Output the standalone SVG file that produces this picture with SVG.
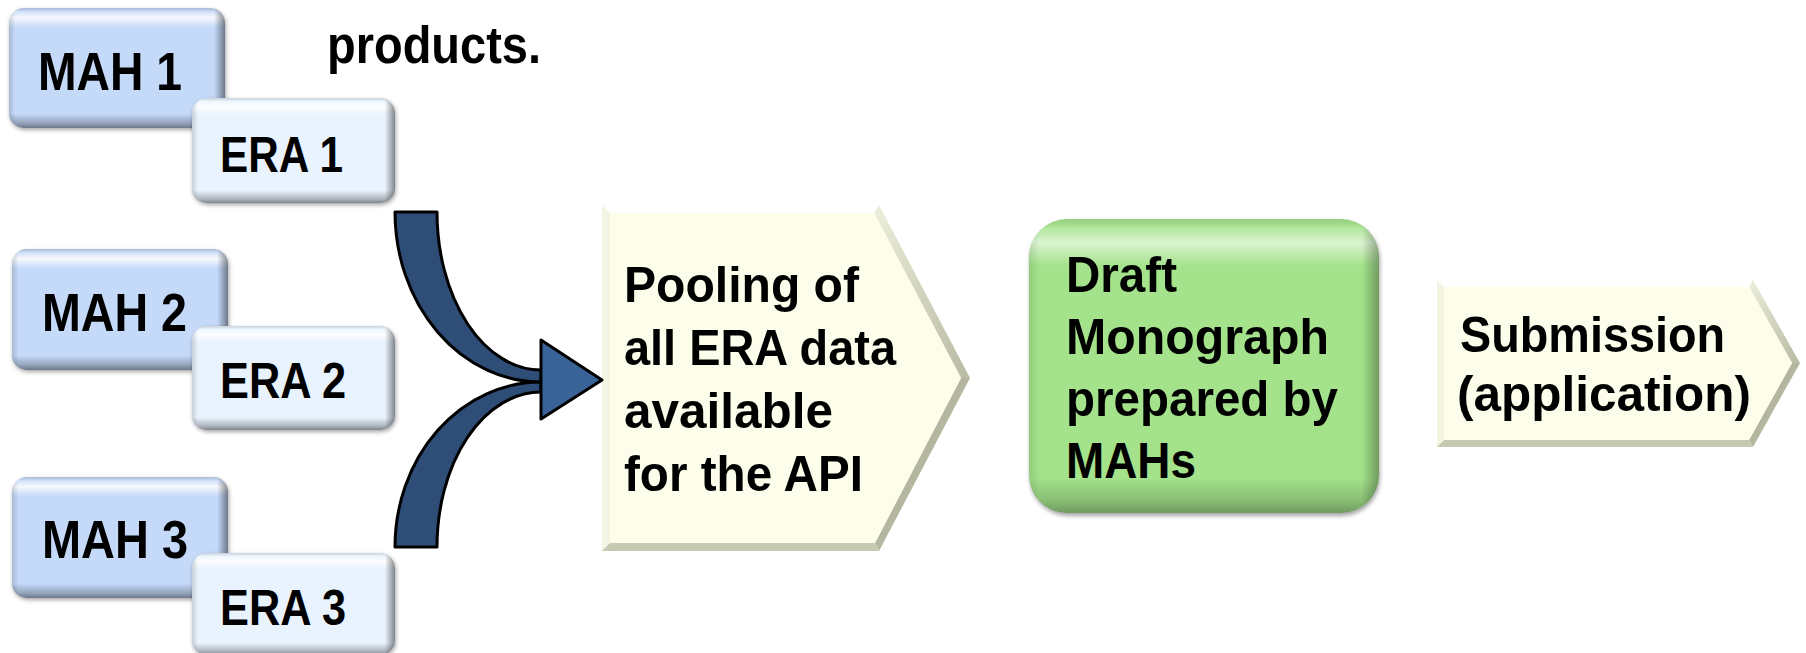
<svg xmlns="http://www.w3.org/2000/svg" width="1806" height="653" viewBox="0 0 1806 653">
<defs>
<style>
.t{font-family:"Liberation Sans",Arial,sans-serif;font-weight:bold;fill:#000;}
.mah{font-size:54px;}
.era{font-size:50px;}
.big{font-size:50px;}
.band{fill:#2E4E78;stroke:#000;stroke-width:3;stroke-linejoin:round;}
.head{fill:#3A6498;stroke:#000;stroke-width:3;stroke-linejoin:round;}
.sh{fill:#000;opacity:.35;filter:url(#blur)}
.ov{fill:url(#gv)}
.oh{fill:url(#gh)}
</style>
<filter id="blur" x="-10%" y="-10%" width="120%" height="120%"><feGaussianBlur stdDeviation="2"/></filter>
<linearGradient id="gv" x1="0" y1="0" x2="0" y2="1">
<stop offset="0" stop-color="#000" stop-opacity=".12"/>
<stop offset=".03" stop-color="#fff" stop-opacity=".2"/>
<stop offset=".08" stop-color="#fff" stop-opacity=".85"/>
<stop offset=".16" stop-color="#fff" stop-opacity="0"/>
<stop offset=".88" stop-color="#000" stop-opacity="0"/>
<stop offset=".96" stop-color="#000" stop-opacity=".25"/>
<stop offset="1" stop-color="#000" stop-opacity=".45"/>
</linearGradient>
<linearGradient id="gh" x1="0" y1="0" x2="1" y2="0">
<stop offset="0" stop-color="#000" stop-opacity=".15"/>
<stop offset=".03" stop-color="#000" stop-opacity="0"/>
<stop offset=".95" stop-color="#000" stop-opacity="0"/>
<stop offset="1" stop-color="#000" stop-opacity=".45"/>
</linearGradient>
<linearGradient id="gs1" x1="0" y1="0" x2="1" y2="1">
<stop offset="0" stop-color="#EDEEDB"/>
<stop offset="1" stop-color="#B9BAA3"/>
</linearGradient>
<linearGradient id="gs2" x1="0" y1="0" x2="1" y2="1">
<stop offset="0" stop-color="#A7A891"/>
<stop offset="1" stop-color="#C4C5AF"/>
</linearGradient>
</defs>

<text class="t" x="327" y="63" font-size="51" textLength="214" lengthAdjust="spacingAndGlyphs">products.</text>

<g id="mah1">
<rect class="sh" x="10" y="10" width="216" height="120" rx="15"/>
<rect x="9" y="8" width="216" height="120" rx="15" fill="#C5D9F9"/>
<rect class="ov" x="9" y="8" width="216" height="120" rx="15"/>
<rect class="oh" x="9" y="8" width="216" height="120" rx="15"/>
<text class="t mah" x="38" y="90" textLength="144" lengthAdjust="spacingAndGlyphs">MAH 1</text>
</g>
<g id="era1">
<rect class="sh" x="193" y="100" width="203" height="105" rx="15"/>
<rect x="192" y="98" width="203" height="105" rx="15" fill="#E9F3FE"/>
<rect class="ov" x="192" y="98" width="203" height="105" rx="15"/>
<rect class="oh" x="192" y="98" width="203" height="105" rx="15"/>
<text class="t era" x="220" y="172" textLength="123" lengthAdjust="spacingAndGlyphs">ERA 1</text>
</g>

<g id="mah2">
<rect class="sh" x="13" y="251" width="216" height="121" rx="15"/>
<rect x="12" y="249" width="216" height="121" rx="15" fill="#C5D9F9"/>
<rect class="ov" x="12" y="249" width="216" height="121" rx="15"/>
<rect class="oh" x="12" y="249" width="216" height="121" rx="15"/>
<text class="t mah" x="42" y="331" textLength="145" lengthAdjust="spacingAndGlyphs">MAH 2</text>
</g>
<g id="era2">
<rect class="sh" x="193" y="328" width="203" height="104" rx="15"/>
<rect x="192" y="326" width="203" height="104" rx="15" fill="#E9F3FE"/>
<rect class="ov" x="192" y="326" width="203" height="104" rx="15"/>
<rect class="oh" x="192" y="326" width="203" height="104" rx="15"/>
<text class="t era" x="220" y="398" textLength="126" lengthAdjust="spacingAndGlyphs">ERA 2</text>
</g>

<g id="mah3">
<rect class="sh" x="13" y="479" width="216" height="121" rx="15"/>
<rect x="12" y="477" width="216" height="121" rx="15" fill="#C5D9F9"/>
<rect class="ov" x="12" y="477" width="216" height="121" rx="15"/>
<rect class="oh" x="12" y="477" width="216" height="121" rx="15"/>
<text class="t mah" x="42" y="558" textLength="146" lengthAdjust="spacingAndGlyphs">MAH 3</text>
</g>
<g id="era3">
<rect class="sh" x="193" y="555" width="203" height="102" rx="15"/>
<rect x="192" y="553" width="203" height="102" rx="15" fill="#E9F3FE"/>
<rect class="ov" x="192" y="553" width="203" height="102" rx="15"/>
<rect class="oh" x="192" y="553" width="203" height="102" rx="15"/>
<text class="t era" x="220" y="625" textLength="126" lengthAdjust="spacingAndGlyphs">ERA 3</text>
</g>

<g id="pooling">
<polygon points="602,205 879,205 970,378 879,551 602,551" fill="#FCFDEB"/>
<polygon points="602,205 879,205 874,213 610,213" fill="#FFFFFF"/>
<polygon points="602,205 610,213 610,543 602,551" fill="#F3F4E2"/>
<polygon points="879,205 970,378 961,378 874,213" fill="url(#gs1)"/>
<polygon points="970,378 879,551 875,543 961,378" fill="url(#gs2)"/>
<polygon points="879,551 602,551 610,543 875,543" fill="#C8C9B2"/>
<polygon points="610,213 874,213 961,378 875,543 610,543" fill="#FCFDEB"/>
<text class="t big" x="624" y="302" textLength="235" lengthAdjust="spacingAndGlyphs">Pooling of</text>
<text class="t big" x="624" y="365" textLength="272" lengthAdjust="spacingAndGlyphs">all ERA data</text>
<text class="t big" x="624" y="428" textLength="209" lengthAdjust="spacingAndGlyphs">available</text>
<text class="t big" x="624" y="491" textLength="239" lengthAdjust="spacingAndGlyphs">for the API</text>
</g>

<g id="connectors">
<path class="band" d="M395 212 L437 212 A104 158 0 0 0 541 370 L541 382 A146 170 0 0 1 395 212 Z"/>
<path class="band" d="M395 547 L437 547 A104 155 0 0 1 541 392 L541 382 A146 165 0 0 0 395 547 Z"/>
<polygon class="head" points="541,340 541,419 602,380"/>
</g>

<g id="draft">
<rect class="sh" x="1030" y="222" width="350" height="294" rx="38"/>
<rect x="1029" y="219" width="350" height="294" rx="38" fill="#A4E38B"/>
<rect class="ov" x="1029" y="219" width="350" height="294" rx="38" opacity=".7"/>
<rect class="oh" x="1029" y="219" width="350" height="294" rx="38" opacity=".7"/>
<text class="t big" x="1066" y="292" textLength="111" lengthAdjust="spacingAndGlyphs">Draft</text>
<text class="t big" x="1066" y="354" textLength="263" lengthAdjust="spacingAndGlyphs">Monograph</text>
<text class="t big" x="1066" y="416" textLength="272" lengthAdjust="spacingAndGlyphs">prepared by</text>
<text class="t big" x="1066" y="478" textLength="130" lengthAdjust="spacingAndGlyphs">MAHs</text>
</g>

<g id="submission">
<polygon points="1437,280 1753,280 1800,363 1753,447 1437,447" fill="#FCFDEB"/>
<polygon points="1437,280 1753,280 1749,287 1444,287" fill="#FFFFFF"/>
<polygon points="1437,280 1444,287 1444,440 1437,447" fill="#F3F4E2"/>
<polygon points="1753,280 1800,363 1792,363 1749,287" fill="url(#gs1)"/>
<polygon points="1800,363 1753,447 1749,440 1792,363" fill="url(#gs2)"/>
<polygon points="1753,447 1437,447 1444,440 1749,440" fill="#C8C9B2"/>
<polygon points="1444,287 1749,287 1792,363 1749,440 1444,440" fill="#FCFDEB"/>
<text class="t big" x="1460" y="352" textLength="265" lengthAdjust="spacingAndGlyphs">Submission</text>
<text class="t big" x="1457" y="411" textLength="294" lengthAdjust="spacingAndGlyphs">(application)</text>
</g>
</svg>
